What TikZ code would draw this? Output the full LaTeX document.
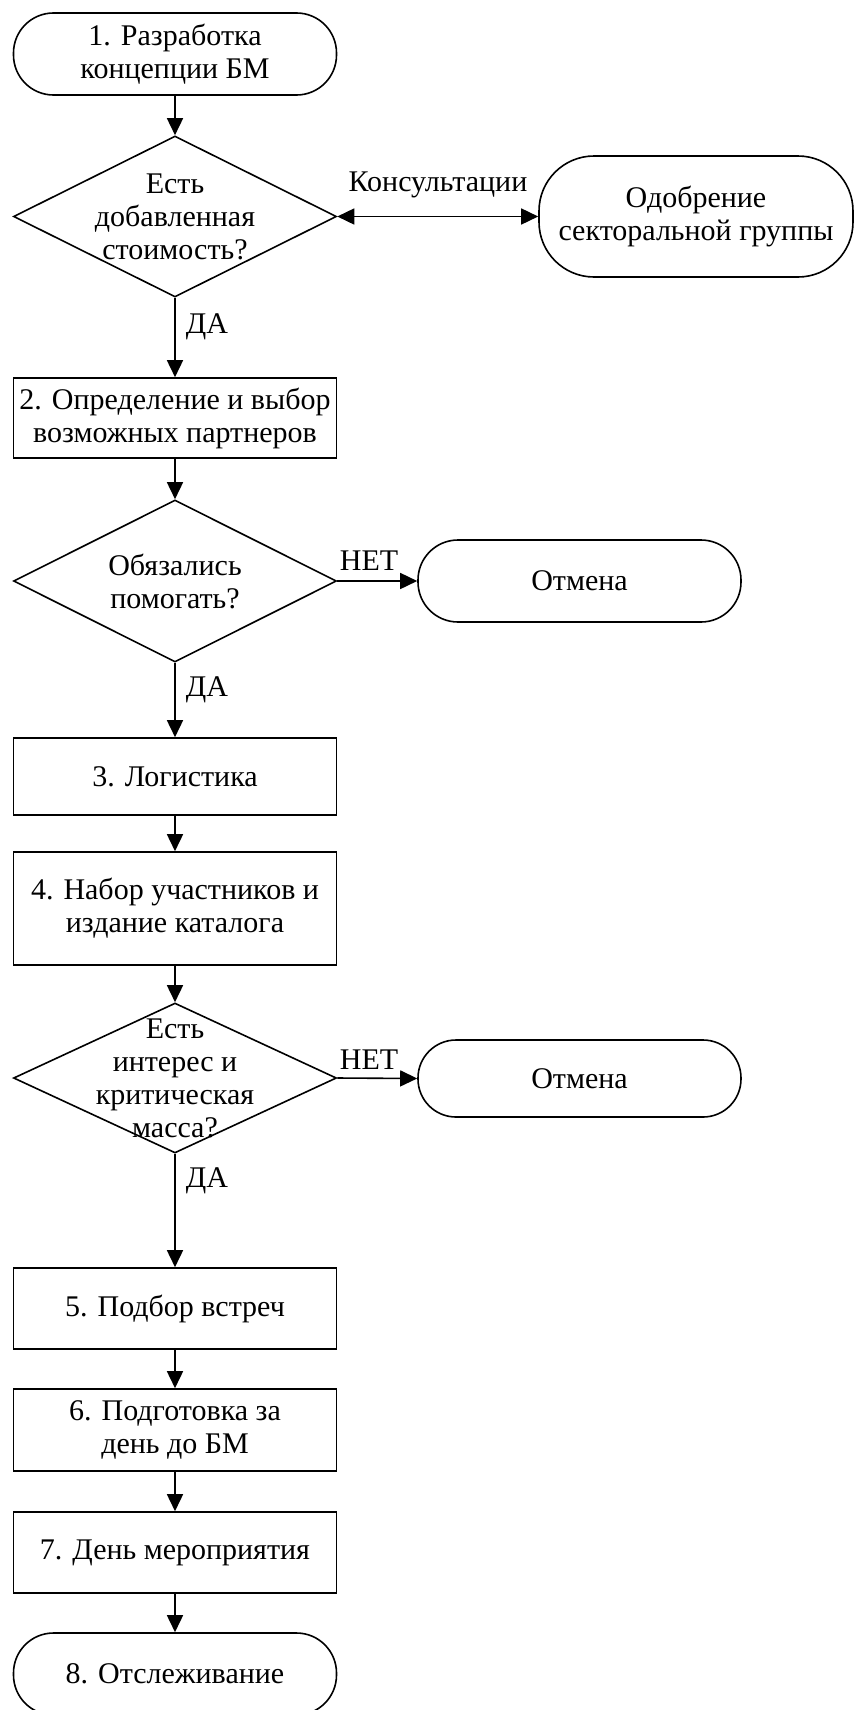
\documentclass[tikz,border=0pt]{standalone}
\usepackage{fontspec}
\setmainfont{Liberation Serif}
\usetikzlibrary{shapes.geometric,arrows.meta}
\begin{document}
\begin{tikzpicture}[x=1pt,y=-1pt,
  every node/.style={font=\fontsize{30}{33}\selectfont},
  base/.style={draw, line width=1.6pt, align=center, inner sep=0pt},
  term/.style={base, rectangle, rounded corners=40pt, minimum width=323pt, minimum height=82pt},
  box/.style={base, rectangle, minimum width=323pt},
  dia/.style={base, diamond, minimum width=323pt},
  txt/.style={align=center, inner sep=0pt},
  lbl/.style={inner sep=0pt},
  arr/.style={-{Triangle[length=17pt,width=16pt]}, line width=1.6pt},
  darr/.style={{Triangle[length=17pt,width=16pt]}-{Triangle[length=17pt,width=16pt]}, line width=1.6pt}
]
\useasboundingbox (0,0) rectangle (854,1710);

\node[term] (s1) at (175,54) {1. Разработка\\концепции БМ};
\node[dia, minimum height=161pt] (d1) at (175,216.5) {};
\node[txt] (d1t) at (d1.center) {Есть\\добавленная\\стоимость?};
\node[term, minimum width=314pt, minimum height=121pt, rounded corners=55pt] (ap) at (696,216.5) {Одобрение\\секторальной группы};
\node[box, minimum height=80pt] (b2) at (175,418) {2. Определение и выбор\\возможных партнеров};
\node[dia, minimum height=162pt] (d2) at (175,581) {};
\node[txt] (d2t) at (d2.center) {Обязались\\помогать?};
\node[term] (c1) at (579.5,581) {Отмена};
\node[box, minimum height=77pt] (b3) at (175,776.5) {3. Логистика};
\node[box, minimum height=113pt] (b4) at (175,908.5) {4. Набор участников и\\издание каталога};
\node[dia, minimum height=150pt] (d3) at (175,1078) {};
\node[txt] (d3t) at (d3.center) {Есть\\интерес и\\критическая\\масса?};
\node[term, minimum height=77pt, rounded corners=38pt] (c2) at (579.5,1078.5) {Отмена};
\node[box, minimum height=81pt] (b5) at (175,1308.5) {5. Подбор встреч};
\node[box, minimum height=82pt] (b6) at (175,1430) {6. Подготовка за\\день до БМ};
\node[box, minimum height=81pt] (b7) at (175,1552.5) {7. День мероприятия};
\node[term] (e8) at (175,1674) {8. Отслеживание};

\draw[arr] (s1) -- (d1);
\draw[darr] (d1.east) -- (ap.west);
\draw[arr] (d1) -- (b2);
\draw[arr] (b2) -- (d2);
\draw[arr] (d2.east) -- (c1.west);
\draw[arr] (d2) -- (b3);
\draw[arr] (b3) -- (b4);
\draw[arr] (b4) -- (d3);
\draw[arr] (d3.east) -- (c2.west);
\draw[arr] (d3) -- (b5);
\draw[arr] (b5) -- (b6);
\draw[arr] (b6) -- (b7);
\draw[arr] (b7) -- (e8);

\node[lbl] (l1) at (438,185) {Консультации};
\node[lbl] (l2) at (207,327) {ДА};
\node[lbl] (l3) at (369,561) {НЕТ};
\node[lbl] (l4) at (207,690) {ДА};
\node[lbl] (l5) at (369,1060) {НЕТ};
\node[lbl] (l6) at (207,1181) {ДА};
\end{tikzpicture}
\end{document}
